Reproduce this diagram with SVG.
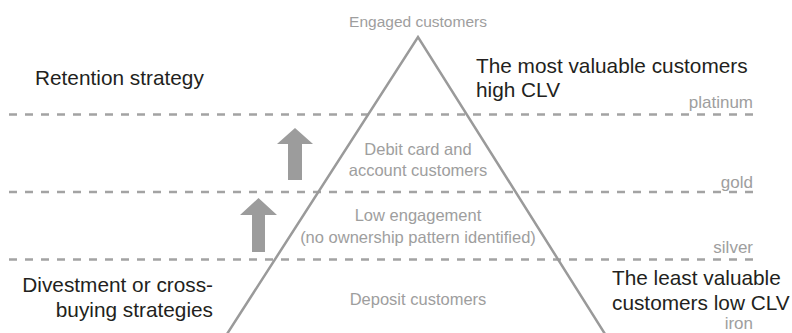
<svg xmlns="http://www.w3.org/2000/svg" width="792" height="333" viewBox="0 0 792 333">
<style>
.dash{stroke:#a3a3a3;stroke-width:2.5;stroke-dasharray:8 8;fill:none}
.tri{stroke:#9a9a9a;stroke-width:2.5;fill:none}
.arrow{fill:#9c9c9c}
.g{font-family:"Liberation Sans",Arial,sans-serif;fill:#9e9e9e}
.b{font-family:"Liberation Sans",Arial,sans-serif;fill:#231f20;font-size:20.8px}
.lvl{font-size:17px;text-anchor:end}
.in{font-size:16.5px;text-anchor:middle}
</style>
<rect width="792" height="333" fill="#ffffff"/>
<g id="connectors">
<line class="dash" x1="9" y1="114.5" x2="753" y2="114.5"/>
<line class="dash" x1="9" y1="192" x2="753" y2="192"/>
<line class="dash" x1="9" y1="259.5" x2="753" y2="259.5"/>
</g>
<g id="pyramid">
<polyline class="tri" points="227,334 418,37 605,334"/>
</g>
<g id="arrow-upper">
<polygon class="arrow" points="295,128 313,144 302,144 302,180 288,180 288,144 277,144"/>
</g>
<g id="arrow-lower">
<polygon class="arrow" points="258.5,198 277,215 265,215 265,252 252,252 252,215 240,215"/>
</g>
<g id="top-label">
<text class="g" x="418" y="27" font-size="15.5" text-anchor="middle">Engaged customers</text>
</g>
<g id="tier-debit">
<text class="g in" x="418" y="155">Debit card and</text>
<text class="g in" x="418" y="176">account customers</text>
</g>
<g id="tier-low">
<text class="g in" x="418" y="221">Low engagement</text>
<text class="g in" x="418" y="243">(no ownership pattern identified)</text>
</g>
<g id="tier-deposit">
<text class="g in" x="418" y="305">Deposit customers</text>
</g>
<g id="level-labels">
<text class="g lvl" x="753" y="108">platinum</text>
<text class="g lvl" x="753" y="188">gold</text>
<text class="g lvl" x="753" y="253">silver</text>
<text class="g lvl" x="753" y="329">iron</text>
</g>
<g id="retention">
<text class="b" x="35" y="85">Retention strategy</text>
</g>
<g id="most-valuable">
<text class="b" x="476" y="73">The most valuable customers</text>
<text class="b" x="476" y="97">high CLV</text>
</g>
<g id="divestment">
<text class="b" x="213" y="292" text-anchor="end">Divestment or cross-</text>
<text class="b" x="213" y="317" text-anchor="end">buying strategies</text>
</g>
<g id="least-valuable">
<text class="b" x="612" y="285">The least valuable</text>
<text class="b" x="612" y="310">customers low CLV</text>
</g>
</svg>
